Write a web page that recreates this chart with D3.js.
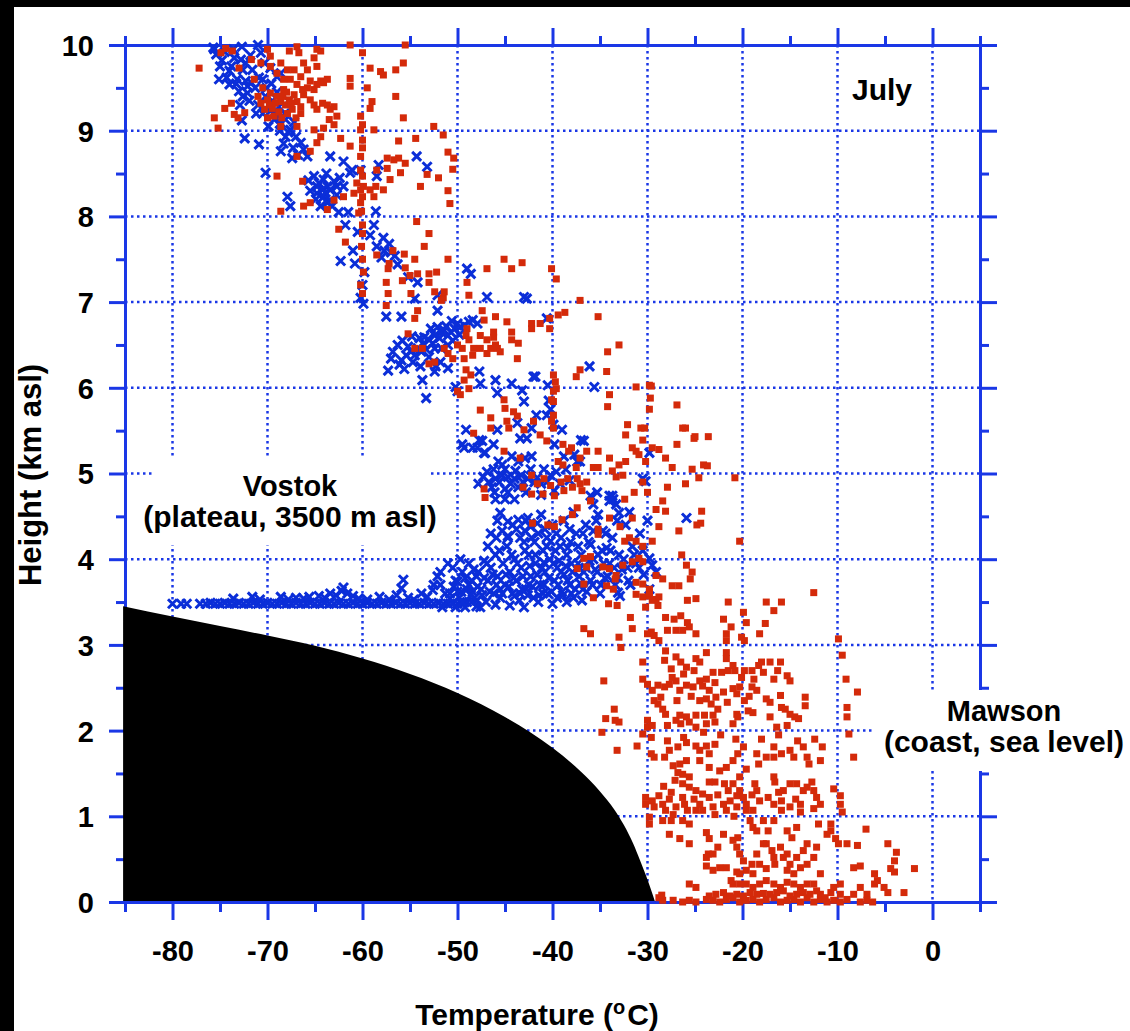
<!DOCTYPE html>
<html>
<head>
<meta charset="utf-8">
<script src="https://cdn.jsdelivr.net/npm/d3@7"></script>
<style>
  html, body { margin: 0; padding: 0; background: #fff; }
  svg { display: block; font-family: "Liberation Sans", Arial, Helvetica, sans-serif; font-weight: bold; }
</style>
</head>
<body>
<div id="chart"></div>
<script>
// ---- data: [temperature (degC), height (km asl)] ----

// Vostok, flat line of surface observations
var vostokSurface = [
  [-80,3.48],[-79.1,3.48],[-78.5,3.48],[-77.1,3.48],[-76.5,3.48],[-76,3.49],[-75.5,3.48],[-75,3.48],[-74.5,3.49],
  [-74,3.48],[-73.5,3.48],[-73,3.49],[-72.5,3.48],[-72,3.48],[-71.5,3.49],[-71,3.48],[-70.5,3.48],[-70,3.49],
  [-69.5,3.48],[-69,3.48],[-68.5,3.49],[-68,3.48],[-67.5,3.48],[-67,3.49],[-66.5,3.48],[-66,3.48],[-65.5,3.49],
  [-65,3.48],[-64.5,3.48],[-64,3.49],[-63.5,3.48],[-63,3.48],[-62.5,3.49],[-62,3.48],[-61.5,3.48],[-61,3.49],
  [-60.5,3.48],[-60,3.48],[-59.5,3.49],[-59,3.48],[-58.5,3.48],[-58,3.49],[-57.5,3.48],[-57,3.48],[-56.5,3.49],
  [-56,3.48],[-55.5,3.48],[-55,3.49],[-54.5,3.48],[-54,3.48],[-53.5,3.49],[-53,3.48],[-52.5,3.48],[-52,3.49],
  [-51.5,3.48],[-51,3.48],[-50.5,3.49],[-50,3.48],[-49.5,3.48],[-49,3.5],[-48.5,3.5],[-48,3.52],
  [-73.6,3.54],[-71.6,3.56],[-70.8,3.53],[-68.6,3.56],[-67.8,3.53],[-67,3.55],[-66.2,3.54],[-65.6,3.56],
  [-64.6,3.57],[-64,3.55],[-63.4,3.6],[-62.8,3.58],[-62.2,3.63],[-62,3.67],[-61.6,3.6],[-61,3.57],[-60.4,3.54],
  [-59.5,3.53],[-58.2,3.56],[-57.2,3.53],[-56.4,3.58],[-55.7,3.76],[-55.9,3.66],[-55.2,3.55],[-54.6,3.53],
  [-53.8,3.6],[-53.2,3.56],[-52.6,3.64],[-52.1,3.8],[-51.8,3.7],[-51.3,3.6],[-50.8,3.54],[-50.4,3.68],[-50,3.74],
  [-49.6,3.62],[-49.2,3.44],[-48.8,3.7],[-48.4,3.62],[-48,3.8],[-47.6,3.44],[-51.6,3.44],[-50.2,3.44]
];

// Vostok, lower troposphere just above the plateau
var vostokLow = [
  [-50.8,3.6],[-50.2,3.75],[-49.8,3.55],[-49.5,3.85],[-49,3.65],[-48.8,3.95],[-48.5,3.75],[-48.2,3.55],[-47.8,3.85],
  [-47.5,3.65],[-47.2,3.98],[-47,3.5],[-46.8,3.75],[-46.5,3.9],[-46.2,3.6],[-46,4.05],[-45.8,3.8],[-45.5,3.55],
  [-45.2,3.95],[-45,3.7],[-44.8,4.15],[-44.5,3.85],[-44.2,3.6],[-44,4.0],[-43.8,3.75],[-43.5,3.52],[-43.3,3.9],
  [-43,4.2],[-42.8,3.65],[-42.5,4.05],[-42.3,3.8],[-42,3.55],[-41.8,3.95],[-41.5,4.3],[-41.3,3.7],[-41,4.1],
  [-40.8,3.85],[-40.5,3.6],[-40.3,4.0],[-40,4.4],[-39.8,3.75],[-39.5,3.9],[-39.2,4.15],[-39,3.62],[-38.8,3.82],
  [-38.5,4.05],[-38.2,3.7],[-38,3.95],[-37.8,3.55],[-37.5,4.3],[-37.2,3.8],[-37,4.05],[-36.8,3.65],[-36.5,3.9],
  [-36.2,4.2],[-36,3.75],[-35.7,4.0],[-35.3,3.85],[-35,3.6],[-34.8,4.1],[-34.5,3.78],[-34,3.95],[-33.7,4.25],
  [-33.4,3.7],[-33,4.05],[-32.7,3.88],[-32.3,4.4],[-32,3.75],[-31.6,4.15],[-31.2,3.95],[-30.8,4.3],[-30.4,3.82],
  [-30,4.45],[-29.8,3.65],[-46.5,4.3],[-45.8,4.45],[-43.8,4.35],[-42.8,4.45],[-41.2,4.52],[-40.6,4.25],[-38.8,4.45],
  [-37.8,4.55],[-36.5,4.4],[-49.5,3.5],[-48,3.45],[-46,3.47],[-44.5,3.46],[-43,3.44],[-41.5,3.5],[-40,3.48],
  [-38.5,3.5],[-52.5,3.7],[-51.8,3.85],[-51,3.95],[-44,3.57],[-45.5,3.65],[-42.5,3.7],[-41,3.6],[-39.5,3.55],
  [-38,3.6],[-43.2,3.65],[-47.2,3.78],[-39.3,3.98],[-40.9,3.96],[-44.7,4.27],[-36.9,3.52],
  [-45.5,4.54],[-44.7,4.44],[-43.6,4.46],[-42.6,4.48],[-41.6,4.42],[-45.3,4.33],[-44.7,4.25],[-42.9,4.33],
  [-42.2,4.25],[-40.2,4.21],[-39.1,4.25],[-38.4,4.13],[-36,4.17],[-34.7,4.33],[-34.3,4.13],[-35.7,4.33],
  [-33.1,3.61],[-32.9,3.57],[-29.8,4.01],[-29.5,3.93],[-29.1,3.85],
  [-50.5,3.9],[-50,3.62],[-49.7,4.0],[-49.2,3.78],[-48.6,3.58],[-48.3,3.88],[-47.9,3.68],[-47.4,3.58],[-46.9,3.95],
  [-46.6,3.62],[-46.3,3.82],[-45.9,3.7],[-45.6,4.1],[-45.3,3.6],[-44.9,3.82],[-44.6,3.68],[-44.3,4.05],[-44.1,3.78],
  [-43.7,3.95],[-43.4,3.6],[-43.1,3.8],[-42.9,4.1],[-42.6,3.58],[-42.4,3.92],[-42.1,3.68],[-41.9,4.2],[-41.6,3.82],
  [-41.4,3.58],[-41.1,3.9],[-40.9,3.7],[-40.6,4.15],[-40.4,3.78],[-40.1,3.62],[-39.9,3.95],[-39.6,4.3],[-39.4,3.7],
  [-39.1,3.85],[-38.9,3.58],[-38.6,3.92],[-38.4,3.75],[-38.1,4.2],[-37.9,3.85],[-37.6,3.65],[-37.3,3.95],[-37.1,3.72],
  [-36.7,3.85],[-36.4,3.62],[-36.1,3.98],[-35.8,3.7],[-35.5,3.88],[-35.2,4.05],[-34.9,3.7],[-34.6,3.95],[-34.2,3.8],
  [-33.9,4.1],[-33.5,3.9],[-33.1,3.78],[-32.5,4.0],[-32.1,3.9],[-31.8,3.7],[-31.4,4.05],[-30.9,3.9],[-30.5,4.1],
  [-46.8,4.15],[-45.9,4.25],[-44.2,4.4],[-43.4,4.25],[-42.3,4.38],[-41.8,4.05],[-40.8,4.35],[-39.7,4.1],[-38.2,4.35],
  [-37.3,4.15],[-36.8,4.3],[-35.4,4.45],[-34.4,4.3],[-33.2,4.45],[-31.9,4.55]
];

// Vostok, middle troposphere
var vostokMid = [
  [-49.5,5.34],[-48.4,5.3],[-47.4,5.38],[-47.1,5.24],[-46.2,5.34],[-45.7,5.14],[-45.3,5.1],[-47.8,4.88],[-46.7,4.9],
  [-46,4.94],[-45.3,4.98],[-44.7,4.96],[-44,4.94],[-43.3,4.98],[-42.6,4.94],[-41.9,4.9],[-41.2,4.88],[-40.2,4.98],
  [-46.4,4.84],[-45,4.82],[-43.6,4.84],[-46,4.7],[-45,4.7],[-44,4.7],[-43.6,5.14],[-42.9,5.18],[-42.2,5.2],
  [-44.3,5.2],[-39.8,5.34],[-38.8,5.2],[-36.7,5.38],[-37.4,5.14],[-33.6,4.7],[-34,4.74],[-33.3,4.64],[-36,4.74],
  [-35.3,4.78],[-30.5,4.94],[-29.8,5.24],[-25.9,4.48],[-37.7,5.22],[-37.1,5.14],[-30.2,4.91],[-33.7,4.74],
  [-34,4.68],[-35.7,4.64],[-35.2,4.52],[-33,4.54],
  [-47.3,4.96],[-46.9,5.02],[-46.2,5.05],[-45.6,4.9],[-45,5.05],[-44.4,4.88],[-43.9,5.03],[-43.1,4.9],[-42.3,5.05],
  [-41.6,4.95],[-40.9,5.05],[-40.6,4.9],[-39.6,5.02],[-39.2,4.88],[-38.6,5.05],[-42.8,4.78],[-44.7,4.78],[-46.1,4.78],
  [-41.2,4.75],[-39.8,4.8],[-38.2,4.92],
  [-49.1,5.51],[-49.3,5.3],[-47.9,5.3],[-47.2,5.24],[-47.7,5.39],[-45.8,5.51],[-43.7,5.59],[-43.4,5.41],
  [-42.7,5.41],[-42.2,5.53],[-41.7,5.68],[-40.6,5.68],[-39.9,5.57],[-39,5.51],[-37,5.39],
  [-47.7,6.19],[-47.6,6.05],[-46,6.09],[-45.8,5.94],[-44.3,6.05],[-43.2,5.97],[-43,5.84],[-42,6.13],[-41.8,6.13],
  [-40.5,6.03],[-40.4,5.85],[-40.2,5.75],[-36.1,6.25],[-35.6,6.01],
  [-57,6.34],[-56.3,6.5],[-56.1,6.27],[-55.4,6.38],[-54.9,6.42],[-54.5,6.38],[-54.2,6.46],[-53.8,6.42],[-53.5,6.5],
  [-53.1,6.57],[-52.8,6.69],[-52.4,6.61],[-52.1,6.71],[-51.7,6.65],[-51.4,6.67],[-51,6.61],[-50.7,6.65],[-50.3,6.69],
  [-50,6.75],[-49.7,6.71],[-49.3,6.73],[-51,6.5],[-51.7,6.46],[-52.4,6.46],[-52.3,6.25],[-52.4,6.19],[-51,6.23],
  [-53.7,6.09],[-53.3,5.88],[-50,5.96],[-50.2,6.01],[-48.8,6.77],[-48.4,6.79],[-47.9,6.75],[-53.5,6.59],[-53,6.36],
  [-55.8,6.55],[-54.8,6.6],[-57.3,6.2],
  [-56.8,6.42],[-55.9,6.32],[-55.2,6.48],[-54.7,6.3],[-54,6.58],[-53.3,6.45],[-52.6,6.52],[-51.9,6.58],[-51.2,6.72],
  [-50.5,6.55],[-49.8,6.62],[-50.6,6.78],[-51.8,6.3],[-53.9,6.25],[-55.6,6.22],
  [-57.7,7.6],[-56.6,7.54],[-56.3,7.44],[-58,7.52],[-57,7.58],[-55.2,7.29],[-54.2,7.23],[-54.5,7.04],[-57.5,6.83],
  [-55.9,6.83],[-52.1,7.08],[-52.1,6.9],[-49,7.39],[-48.6,7.33],[-46.9,7.06],[-43,7.06],[-42.7,7.04],[-40.6,6.81]
];

// Vostok, upper troposphere
var vostokHigh = [
  [-75.6,9.95],[-75.4,9.89],[-75.1,9.6],[-74,9.54],[-73,9.46],[-72.6,9.4],[-72.1,9.52],[-71.7,9.56],[-72.1,9.44],
  [-72.6,9.71],[-72.3,9.79],[-72.8,9.83],[-71,10],[-70.7,9.91],[-71.6,9.71],[-70.3,9.79],[-69.7,9.73],[-69,9.63],
  [-68.6,9.67],[-69.7,9.23],[-69.3,9.13],[-68.6,9.09],[-68.1,9.13],[-67.6,9.01],[-68.1,8.93],[-67,8.93],[-66.5,8.86],
  [-66.2,8.78],[-67.4,8.68],[-68.6,8.76],[-72.4,8.91],[-70.9,8.84],[-70.2,8.51],[-67.9,8.23],[-67.6,8.12],
  [-65.8,8.7],[-63.4,8.7],[-62,8.64],[-65.1,8.47],[-64.6,8.39],[-64.1,8.43],[-63.7,8.35],[-63.4,8.31],[-62.7,8.35],
  [-63,8.41],[-64.2,8.31],[-64.8,8.27],[-64.1,8.23],[-63.4,8.19],[-62.7,8.25],[-62,8.35],[-61.3,8.51],[-63.7,8.16],
  [-64.4,8.12],[-64.8,8.35],[-58.5,8.47],[-58.6,8.06],[-58.3,8.6],[-60.2,8.54],[-61.1,8.54],[-54.3,8.7],[-53.2,8.58],
  [-69.5,9.35],[-68.8,9.28],[-68.2,9.2],[-67.8,9.35],[-67.2,9.1],[-69,9.45],[-70.2,9.4],[-71,9.3],[-70.5,9.2],
  [-73.2,9.6],[-74,9.7],[-73.5,9.85],[-74.5,9.92],[-75.7,9.97],[-71.8,9.88],[-70.5,9.6],
  [-75,9.75],[-74.3,9.62],[-73.8,9.75],[-73.3,9.55],[-72.9,9.3],[-72.3,9.58],[-71.9,9.35],[-71.3,9.5],[-70.9,9.62],
  [-70.1,9.5],[-69.6,9.55],[-69.2,9.2],[-68.7,9.0],[-68.3,8.85],[-67.3,8.8],[-66.8,8.72],[-67.8,8.98],[-69.9,9.05],
  [-71.2,9.2],[-72.7,9.12],[-73.6,9.95],[-72.7,9.98],[-74.8,9.82],[-65.5,8.3],[-64.9,8.2],[-63.9,8.28],[-63.2,8.12],
  [-62.4,8.45],[-65.7,8.42],[-63.8,8.5],[-62.5,8.05],
  [-61.8,7.9],[-60.5,7.82],[-59.2,7.78],[-58.5,7.65],[-61,7.6],[-62.3,7.48],[-60.8,7.45],[-59.8,7.35],[-60,7.2],
  [-60.2,7.05],[-59.9,6.98],[-57.8,7.75],[-58.8,7.9],[-61.5,8.05],[-57.2,7.68]
];

// Mawson, upper troposphere
var mawsonHigh = [
  [-77.2,9.73],[-75.6,9.15],[-75.2,9.03],[-74.5,9.26],[-73.8,9.32],[-73.5,9.19],[-73.1,9.15],[-72.4,9.21],[-74.9,9.91],
  [-74.4,9.96],[-73.7,9.93],[-73,9.73],[-71.7,9.83],[-71.4,9.6],[-70.7,9.79],[-70.5,9.5],[-71,9.4],[-70.7,9.32],
  [-70.3,9.25],[-70,9.36],[-69.7,9.44],[-69.5,9.26],[-69.3,9.17],[-70,9.15],[-69,9.4],[-68.6,9.34],[-68.3,9.48],
  [-68.1,9.3],[-67.7,9.36],[-67.4,9.25],[-67.2,9.42],[-66.9,9.34],[-66.5,9.28],[-66.2,9.42],[-65.8,9.5],[-65.5,9.36],
  [-65.1,9.3],[-64.8,9.25],[-64.2,9.32],[-63.7,9.3],[-63.4,9.25],[-63,9.28],[-64.4,9.58],[-64.1,9.56],[-63.7,9.6],
  [-64.8,9.54],[-65.5,9.58],[-65.1,9.48],[-66.3,9.48],[-66.9,9.54],[-67.6,9.6],[-68.3,9.6],[-69,9.67],[-69.7,9.75],
  [-68.6,9.79],[-67.7,9.93],[-66.9,9.98],[-66.7,9.91],[-66.2,9.79],[-65.8,9.71],[-64.8,9.75],[-64.4,9.93],
  [-65.1,9.85],[-64.8,9.95],[-67.9,9.71],[-67.2,9.71],[-66.5,9.63],[-70,9.95],[-69.7,9.87],[-68.6,9.05],[-66.9,9.05],
  [-65.1,9.01],[-64.8,8.86],[-65.5,8.76],[-66.9,8.7],[-64.4,8.93],[-64.1,9.03],[-62.3,8.91],[-61.3,8.82],[-66.3,8.41],
  [-65.5,8.16],[-66.2,8.12],[-63.7,8.08],[-63,8.19],[-62,8.23],[-60.9,8.27],[-60.6,8.39],[-59.9,8.35],[-59.2,8.31],
  [-60.4,8.04],[-58.8,8.23],[-58.6,8.35],[-57.8,8.31],[-57.1,8.43],[-56,8.51],[-55.5,8.62],[-56.2,8.68],[-56.7,8.66],
  [-57.4,8.56],[-54.4,8.91],[-56.2,8.88],[-53.9,8.35],[-53.2,8.49],[-54.3,7.94],[-68.6,8.06],[-69,8.47],
  [-61.3,10],[-55.5,10],[-60,9.91],[-61.3,9.61],[-61.3,9.52],[-59.2,9.73],[-58.1,9.69],[-57.8,9.65],[-56.5,9.71],
  [-55.7,9.79],[-55.7,9.15],[-56.5,9.4],[-59.5,9.5],[-59,9.34],[-59.2,9.26],[-60.2,9.17],[-60,9.07],[-60.2,9.01],
  [-60,8.89],[-60,8.8],[-60.2,8.7],[-60.2,8.54],[-60,8.47],[-60.2,8.31],[-60,8.23],[-60.2,8.16],[-60.1,8.06],
  [-63.5,9.13],[-62.7,9.17],[-63,9.07],[-58.8,9.01],[-57.4,8.68],[-58.5,8.54],
  [-69.2,9.32],[-68.8,9.22],[-68.4,9.4],[-67.9,9.2],[-67.5,9.32],[-68,9.45],[-69.8,9.3],[-68.5,9.15],[-67,9.15],
  [-66.5,9.2],[-52.5,9.05],[-51.5,8.95],[-51,8.75],[-50.4,8.68],[-50.5,8.55],[-51,8.3],[-50.8,8.15],[-52,8.45],
  [-60,7.9],[-60,7.8],[-60.1,7.65],[-60,7.5],[-59.9,7.35],[-60.2,7.2],[-60,7.1],[-61.8,7.7],[-62.5,7.85],[-58.5,7.55],
  [-57.2,7.45],[-56.8,7.6],[-55.8,7.25],[-55.5,7.4],[-54.5,7.5],[-53.5,7.65],[-53,7.8],[-52.2,7.35],[-51.5,7.05]
];

// Mawson, middle troposphere
var mawsonMid = [
  [-55.6,7.56],[-57.3,7.39],[-57.5,7.23],[-57.3,7.1],[-57.5,6.96],[-55,7.31],[-54.9,7.1],[-54.2,7.33],[-53,7.33],
  [-53,7.23],[-51,7.5],[-52.4,7.12],[-51.4,7.12],[-51.7,7.02],[-54.2,6.9],[-54.5,6.81],[-55.2,6.63],[-54.5,6.46],
  [-53.7,6.46],[-53,6.28],[-52.4,6.3],[-51.4,6.46],[-51,6.4],[-50.5,6.34],[-50,6.5],[-49.5,6.46],[-49.3,6.34],
  [-49.1,6.21],[-48.6,6.15],[-49.3,6.09],[-48.8,5.99],[-50,5.96],[-49.7,5.92],[-49.1,6.61],[-49,6.69],[-48.8,6.56],
  [-48.4,6.38],[-48.3,6.46],[-47.6,6.61],[-47.6,6.46],[-47.4,6.9],[-46.9,6.56],[-46.9,6.4],[-46.5,6.46],[-46.2,6.59],
  [-46,6.5],[-45.8,6.46],[-45.5,6.42],[-46.2,6.65],[-47.2,6.79],[-48.8,7.08],[-49,7.23],[-46.9,7.39],[-45.1,7.5],
  [-44.3,7.39],[-43.2,7.46],[-46,6.83],[-44.8,6.77],[-44.3,6.65],[-44.3,6.56],[-43.6,6.52],[-43.7,6.34],[-42.2,6.69],
  [-42.2,6.75],[-41.3,6.75],[-40.3,6.81],[-40.3,6.69],[-39.4,6.85],[-38.7,6.88],[-39.6,7.27],[-40.1,7.39],
  [-37.1,7.02],[-35.2,6.83],[-33,6.5],[-34.2,6.42],[-37.1,6.21],[-37.5,6.13],[-34.3,6.19],[-39.9,6.15],[-39.7,6.07],
  [-39.9,5.96],[-39.9,5.84],[-39.9,5.68],[-40.1,5.61],[-39.9,5.53],[-40.1,5.86],[-39.6,5.99],[-47.6,5.74],
  [-46.5,5.65],[-45.1,5.86],[-45,5.76],[-44.1,5.72],[-43.7,5.67],[-43,5.51],[-42,5.61],[-44.8,5.61],[-44.6,5.53],
  [-46.5,5.53],[-48.3,5.47],[-45.1,5.26],[-43.4,5.18],[-41.3,5.45],[-40.6,5.38],[-38.9,5.34],[-38,5.3],[-37.1,5.18],
  [-36.4,5.26],[-35.2,5.26],[-34,5.18],[-35.7,5.07],[-35.2,5.07],[-33.7,5.03],[-33,5.1],[-32.3,5.14],[-31.2,5.26],
  [-30.9,5.22],[-30.2,5.14],[-30.5,5.39],[-29.5,5.3],[-28.8,5.28],[-28.1,5.18],[-27.4,5.07],[-26.9,5.34],[-25,5.43],
  [-25.3,5.05],[-24.6,4.95],[-24.1,5.1],[-23.7,5.09],[-32.1,5.57],[-30.7,5.53],[-30.3,5.53],[-32.3,5.45],[-34,5.92],
  [-34.2,5.78],[-31.2,6.01],[-29.8,6.03],[-26.9,5.8],[-26.3,5.53],[-26,5.53],[-25.1,5.41],[-31.6,5.3],[-38.9,5.1],
  [-37.5,5.07],[-38.3,5.26],[-39.4,5.14],[-24.3,4.56],[-29.6,6.02],[-29.7,5.88],[-29.8,5.75],
  [-43.1,4.84],[-42.2,4.98],[-41.6,4.88],[-40.9,4.94],[-40.2,4.86],[-39.1,4.9],[-38.4,4.94],[-37.9,4.84],[-37.4,4.94],
  [-37.1,4.88],[-42.2,4.76],[-41,4.76],[-39.8,4.74],[-38.8,4.8],[-47.2,4.82],[-47.1,4.72],[-26,4.88],[-27.9,4.84],
  [-28.4,4.68],[-30,4.78],[-31.4,4.78],[-32.4,4.7],[-33.3,4.96],[-32.6,4.98],[-30.5,4.9],[-36.4,4.9],[-36.9,4.8],
  [-36,4.68],[-37.4,4.6],[-37.9,4.52],[-39,4.46],[-39.8,4.38],[-40.5,4.4],[-42.1,4.42],[-35.2,4.35],[-35.2,4.29],
  [-34,4.48],[-32.9,4.38],[-32.4,4.21],[-31.9,4.25],[-31.2,4.21],[-31.6,4.48],[-30.5,4.15],[-29.5,4.21],[-29.1,4.58],
  [-28.1,4.56],[-28.8,4.38],[-26.7,4.33],[-24.8,4.4],[-26.4,4.05],[-25.9,3.93],[-25.3,3.85],[-25.5,3.77],[-26.7,3.69],
  [-27.4,3.69],[-28.4,3.77],[-29.1,3.81],[-29.8,3.65],[-30.5,3.71],[-31.2,3.73],[-30.5,3.97],[-31.6,3.97],[-30.9,4.01],
  [-32.6,3.93],[-33.3,3.81],[-34,3.89],[-34.7,3.91],[-36,4.03],[-36.7,4.01],[-36.4,3.91],[-37.4,3.89],[-36.7,3.71],
  [-35.7,3.55],[-34.3,3.69],[-33.6,3.65],[-33.4,3.77],[-31.2,3.59],[-29.8,3.57],[-29.1,3.53],[-36.7,3.19],[-36,3.13],
  [-23.6,5.43],[-20.8,4.95],[-20.3,4.21],[-24.4,4.42]
];

// Mawson, lower troposphere down to the coast
var mawsonLow = [
  [-34.1,3.48],[-33.2,3.46],[-31.8,3.32],[-31.6,3.19],[-30.5,3.56],[-30.2,3.44],[-29.8,3.61],[-29.5,3.52],[-28.8,3.56],
  [-28.9,3.46],[-30,3.13],[-29.6,3.15],[-29.3,3.11],[-28.8,3.05],[-28.1,3.32],[-27.2,3.3],[-27.9,3.17],[-27,3.17],
  [-26.5,3.34],[-25.8,3.26],[-25.6,3.21],[-26.3,3.17],[-24.9,3.13],[-25.8,3.52],[-24.9,3.54],[-21.5,3.5],[-22,3.3],
  [-21.2,3.21],[-21.7,3.13],[-21.7,3.05],[-19.9,3.38],[-19.6,3.26],[-20.1,3.09],[-19.8,3.05],[-17.6,3.25],[-18.2,3.13],
  [-17.5,3.5],[-16.7,3.4],[-15.9,3.5],[-12.5,3.61],[-33,3.09],[-32.8,2.97],
  [-28.1,2.93],[-28.2,2.82],[-27,2.86],[-26.5,2.8],[-27.5,2.72],[-25.9,2.74],[-24.9,2.84],[-23.8,2.91],[-24.5,2.8],
  [-30.5,2.8],[-30.5,2.6],[-30,2.54],[-29.5,2.47],[-28.9,2.53],[-28.2,2.51],[-27.7,2.54],[-27,2.58],[-26.6,2.47],
  [-25.9,2.53],[-25.2,2.51],[-24.5,2.58],[-23.8,2.6],[-23.1,2.68],[-22.2,2.68],[-21.5,2.7],[-20.8,2.7],[-21,2.76],
  [-19.8,2.7],[-19,2.7],[-18.3,2.76],[-18,2.8],[-17.1,2.8],[-16,2.8],[-16.7,2.6],[-15.3,2.64],[-15,2.58],[-19,2.51],
  [-18.5,2.47],[-17.5,2.37],[-17.1,2.33],[-16,2.41],[-21.7,2.91],[-21.7,2.84],[-23.5,2.47],[-24.5,2.35],[-23.8,2.37],
  [-23.3,2.31],[-22.8,2.39],[-22.6,2.25],[-23.1,2.18],[-24,2.18],[-24.9,2.18],[-25.9,2.16],[-26.6,2.18],[-27,2.12],
  [-28.1,2.19],[-28.4,2.25],[-28.9,2.31],[-29.3,2.35],[-28.6,2.39],[-30,2.12],[-30,2.04],[-29.5,2.06],[-27.9,2.06],
  [-26.5,2.08],[-25.6,2.1],[-24.9,2.04],[-23.8,2.08],[-22.9,2.1],[-21,2.49],[-20.6,2.43],[-20.3,2.51],[-19.8,2.35],
  [-19.4,2.23],[-18.9,2.21],[-20.6,2.19],[-20.5,2.16],[-21,2.08],[-17.1,2.16],[-16.4,2.04],[-15.3,2.06],[-14.5,2.16],
  [-14.1,2.14],[-15.9,2.27],[-15.5,2.25],[-13.4,2.39],[-13.4,2.29],[-15,2.19],[-9.9,3.07],[-9.5,2.88],[-9.1,2.6],
  [-7.9,2.45],[-9,2.27],[-9,2.16],[-8.8,1.96],[-34.6,2.58],[-33.5,2.25],[-34.4,2.14],[-33.4,2.12],[-33,2.1],
  [-34.8,1.98],[-33.2,1.77],[-31.1,1.82],[-30.5,1.96],
  [-27.4,2.62],[-26.2,2.66],[-25.1,2.7],[-24.2,2.52],[-22.9,2.56],[-22,2.45],[-20.1,2.62],[-18.8,2.6],[-17.8,2.68],
  [-16.3,2.7],[-26.9,2.35],[-25.4,2.4],[-21.6,2.33],[-19.3,2.4],
  [-29.6,1.92],[-29.6,1.73],[-29.3,1.69],[-28.2,1.69],[-27.7,1.77],[-26.8,1.81],[-25.9,1.86],[-24.9,1.82],[-24.5,1.77],
  [-23.8,1.82],[-22.9,1.84],[-23.5,1.73],[-24.5,1.65],[-25.9,1.65],[-26.6,1.61],[-27.3,1.59],[-26.8,1.51],[-26.3,1.49],
  [-25.6,1.46],[-26.3,1.38],[-25.6,1.34],[-24.9,1.3],[-24.2,1.26],[-23.5,1.22],[-24.5,1.14],[-24.9,1.07],[-24.2,1.07],
  [-23.1,1.11],[-22,1.14],[-21.3,1.18],[-20.6,1.24],[-20.3,1.3],[-19.9,1.22],[-19.6,1.14],[-19.6,1.07],[-18.9,1.07],
  [-20.6,1.11],[-21.7,1.07],[-30.2,1.22],[-30.2,1.14],[-29.5,1.18],[-29.3,1.11],[-28.4,1.14],[-28.1,1.07],[-27.5,1.28],
  [-27.7,1.2],[-28.8,1.24],[-26.3,1.22],[-26.1,1.14],[-27,1.11],[-25.8,1.07],[-22.9,1.4],[-23.5,1.4],[-21.9,1.38],
  [-21,1.38],[-20.3,1.46],[-19.6,1.55],[-18.3,1.61],[-17.5,1.69],[-16.7,1.69],[-15.9,1.73],[-15,1.77],[-14.6,1.69],
  [-13.2,1.69],[-13,1.61],[-11.8,1.65],[-11.6,1.81],[-13.6,1.81],[-16.7,1.81],[-18.5,1.73],[-19.9,1.81],[-20.5,1.73],
  [-21,1.65],[-21.7,1.57],[-22.4,1.53],[-23.5,1.57],[-15,1.38],[-14.3,1.38],[-13.6,1.3],[-13.2,1.34],[-12.7,1.4],
  [-12.5,1.3],[-12.2,1.22],[-13.9,1.14],[-15.7,1.3],[-15.9,1.18],[-16.7,1.14],[-15.9,1.07],[-15,1.11],[-13.9,1.05],
  [-12.5,1.09],[-11.8,1.14],[-10.4,1.32],[-9.7,1.24],[-9.7,1.14],[-9.5,1.05],[-8.3,1.69],[-7,0.85],[-12,0.91],
  [-10.7,0.83],[-10.2,0.74],[-9.9,0.68],[-9,0.68],[-7.9,0.66],[-16.7,1.46],[-16.6,1.4],[-18.7,1.38],[-18.5,1.3],
  [-18.2,1.18],
  [-27.1,1.42],[-28.3,1.35],[-25.1,1.2],[-22.6,1.25],[-21.5,1.3],[-19,1.25],[-17.3,1.22],[-16.2,1.28],[-14.4,1.2],
  [-22.9,1.02],[-20.9,1.0],[-27.3,1.02],[-27.9,1.88],[-26.2,1.92],[-22.3,1.95],[-20.7,1.9],[-18,1.9],[-16.2,1.95],
  [-14.2,1.88],[-12.4,1.9],[-24.1,1.98],
  [-29.8,0.99],[-29.8,0.91],[-28.4,0.95],[-27.5,0.95],[-26.3,0.95],[-25.6,0.91],[-27.7,0.79],[-26.6,0.74],[-25.6,0.68],
  [-23.8,0.81],[-23.5,0.74],[-23.6,0.56],[-23.8,0.52],[-23.1,0.56],[-22.6,0.64],[-22,0.79],[-21,0.72],[-20.6,0.64],
  [-20.3,0.56],[-20.5,0.75],[-19.2,0.95],[-18.9,0.87],[-18.5,0.83],[-17.8,0.95],[-17.3,0.83],[-16.7,0.95],[-17.5,0.68],
  [-16.9,0.6],[-16.7,0.52],[-16,0.64],[-15.7,0.52],[-16.6,0.44],[-17.5,0.39],[-18.2,0.44],[-19,0.44],[-19.9,0.48],
  [-19.6,0.37],[-18.9,0.33],[-20.6,0.35],[-21.7,0.4],[-22.4,0.4],[-23.1,0.37],[-23.8,0.42],[-25.6,0.21],[-24.9,0.17],
  [-21,0.21],[-20.3,0.21],[-19.6,0.21],[-18.9,0.17],[-18.2,0.21],[-17.5,0.25],[-16.7,0.21],[-16,0.17],[-15.3,0.23],
  [-14.6,0.21],[-13.9,0.17],[-13.2,0.21],[-12.5,0.21],[-14.6,0.33],[-15.3,0.37],[-13.9,0.4],[-13.2,0.44],[-15,0.44],
  [-12.5,0.52],[-11.8,0.33],[-10.4,0.17],[-9.7,0.21],[-11.8,0.09],[-10.7,0.11],[-9.7,0.09],[-8.3,0.09],[-7.6,0.17],
  [-6.9,0.09],[-6.1,0.21],[-5.8,0.25],[-5.1,0.17],[-4.7,0.11],[-4,0.48],[-4.4,0.39],[-4,0.35],[-1.9,0.39],[-3,0.11],
  [-4.7,0.68],[-3.8,0.58],[-7.6,0.42],[-6.1,0.33],[-8.3,0.4],
  [-28.8,0.05],[-28.4,0.02],[-27.3,0.02],[-26.3,0],[-25.6,0.02],[-24.9,0],[-23.8,0.03],[-23.1,0.02],[-22.4,0],
  [-21.7,0.03],[-21,0.05],[-20.3,0],[-19.6,0.02],[-18.9,0.03],[-18.2,0],[-17.5,0.03],[-16.7,0.05],[-16,0],[-15.3,0.02],
  [-14.6,0.03],[-13.9,0],[-13.2,0.05],[-12.5,0],[-11.8,0.03],[-11.1,0],[-10.4,0.02],[-9.7,0],[-9,0.03],[-7.6,0],
  [-6.9,0.02],[-6.3,0],[-23.5,0.07],[-22.8,0.09],[-22,0.11],[-21.3,0.07],[-20.6,0.09],[-19.9,0.07],[-19.2,0.11],
  [-18.5,0.09],[-17.8,0.1],[-17.1,0.09],[-16.4,0.11],[-15.7,0.13],[-15,0.07],[-14.3,0.09],[-13.6,0.11],[-12.9,0.09],
  [-12.2,0.13],[-11.3,0.05],[-21.2,0.25],[-20.3,0.33],[-15.3,0.56],[-14.3,0.52],[-13.6,0.6],[-13.2,0.68],[-12.2,0.64],
  [-11.1,0.79],[-10.7,0.91],[-15.3,0.83],[-14.8,0.75],[-14.3,0.87],[-18.5,0.56],[-17.8,0.68],[-28.5,0.08]
];

// ice sheet profile (black)
var iceProfile = [
  [-85.2,3.45],[-80,3.33],[-75,3.22],[-70,3.11],[-65,2.99],[-60,2.84],[-55,2.66],[-50,2.44],[-45,2.16],
  [-40,1.8],[-37,1.52],[-35,1.29],[-33.5,1.08],[-32.5,0.9],[-31.5,0.68],[-30.8,0.49],[-30.2,0.32],[-29.7,0.165],
  [-29.2,0]
];

var xTicks = [-80, -70, -60, -50, -40, -30, -20, -10, 0];
var xMinorTicks = [-85, -75, -65, -55, -45, -35, -25, -15, -5, 5];
var yTicks = [0, 1, 2, 3, 4, 5, 6, 7, 8, 9, 10];
var yMinorTicks = [0.5, 1.5, 2.5, 3.5, 4.5, 5.5, 6.5, 7.5, 8.5, 9.5];

var axisBlue = '#1a37e6',
  crossBlue = '#0b2ed8',
  squareRed = '#d42a0a';

var svgWidth = 1130, svgHeight = 1031;
var plot = { left: 125, right: 980, top: 45, bottom: 902 };

var svg = d3.select('#chart')
  .append('svg')
  .attr('width', svgWidth)
  .attr('height', svgHeight);

var x = d3.scaleLinear().domain([-85, 5]).range([plot.left, plot.right]);
var y = d3.scaleLinear().domain([0, 10]).range([plot.bottom, plot.top]);

// black frame edges
svg.append('rect').attr('x', 0).attr('y', 0).attr('width', svgWidth).attr('height', 7).attr('fill', '#000');
svg.append('rect').attr('x', 0).attr('y', 0).attr('width', 14).attr('height', svgHeight).attr('fill', '#000');

// dotted grid
var grid = svg.append('g').attr('class', 'grid')
  .attr('stroke', axisBlue).attr('stroke-width', 2.5).attr('stroke-dasharray', '2.5,3.5');
grid.selectAll('.vgrid').data(xTicks).enter().append('line')
  .attr('x1', function (d) { return x(d); }).attr('x2', function (d) { return x(d); })
  .attr('y1', plot.top).attr('y2', plot.bottom);
grid.selectAll('.hgrid').data(yTicks.slice(1, -1)).enter().append('line')
  .attr('x1', plot.left).attr('x2', plot.right)
  .attr('y1', function (d) { return y(d); }).attr('y2', function (d) { return y(d); });

function styleAxis(g) {
  g.selectAll('path.domain').attr('stroke', axisBlue).attr('stroke-width', 3);
  g.selectAll('.tick line').attr('stroke', axisBlue).attr('stroke-width', 3);
  g.selectAll('text').attr('fill', '#000').attr('font-size', 29).attr('font-weight', 'bold')
    .attr('font-family', '"Liberation Sans", Arial, sans-serif');
}

function drawAxes() {
  var fmt = function (d) { return String(d); };
  var bottom = svg.append('g').attr('transform', 'translate(0,' + plot.bottom + ')')
    .call(d3.axisBottom(x).tickValues(xTicks).tickSize(18).tickSizeOuter(0).tickFormat(fmt));
  bottom.selectAll('text').attr('y', 59).attr('dy', 0);
  svg.append('g').attr('transform', 'translate(0,' + plot.bottom + ')')
    .call(d3.axisBottom(x).tickValues(xMinorTicks).tickSize(10).tickSizeOuter(0).tickFormat(''));
  svg.append('g').attr('transform', 'translate(0,' + plot.top + ')')
    .call(d3.axisTop(x).tickValues(xTicks).tickSize(17).tickSizeOuter(0).tickFormat(''));
  svg.append('g').attr('transform', 'translate(0,' + plot.top + ')')
    .call(d3.axisTop(x).tickValues(xMinorTicks).tickSize(9).tickSizeOuter(0).tickFormat(''));
  var left = svg.append('g').attr('transform', 'translate(' + plot.left + ',0)')
    .call(d3.axisLeft(y).tickValues(yTicks).tickSize(16).tickSizeOuter(0).tickFormat(fmt));
  left.selectAll('text').attr('x', -31).attr('dy', '0.36em');
  svg.append('g').attr('transform', 'translate(' + plot.left + ',0)')
    .call(d3.axisLeft(y).tickValues(yMinorTicks).tickSize(9).tickSizeOuter(0).tickFormat(''));
  svg.append('g').attr('transform', 'translate(' + plot.right + ',0)')
    .call(d3.axisRight(y).tickValues(yTicks).tickSize(17).tickSizeOuter(0).tickFormat(''));
  svg.append('g').attr('transform', 'translate(' + plot.right + ',0)')
    .call(d3.axisRight(y).tickValues(yMinorTicks).tickSize(9).tickSizeOuter(0).tickFormat(''));
  svg.selectAll('g').each(function () { styleAxis(d3.select(this)); });
}
drawAxes();

// Vostok crosses
var vostok = vostokSurface.concat(vostokLow, vostokMid, vostokHigh);
svg.append('g').selectAll('path.vostok')
  .data(vostok).enter().append('path')
  .attr('class', 'vostok')
  .attr('d', 'M-4.5,-4.5L4.5,4.5M-4.5,4.5L4.5,-4.5')
  .attr('transform', function (d) { return 'translate(' + x(d[0]) + ',' + y(d[1]) + ')'; })
  .attr('stroke', crossBlue).attr('stroke-width', 3).attr('fill', 'none');

// Mawson squares
var mawson = mawsonHigh.concat(mawsonMid, mawsonLow);
svg.append('g').selectAll('rect.mawson')
  .data(mawson).enter().append('rect')
  .attr('class', 'mawson')
  .attr('x', function (d) { return x(d[0]) - 3.5; })
  .attr('y', function (d) { return y(d[1]) - 3.5; })
  .attr('width', 7).attr('height', 7)
  .attr('fill', squareRed);

// ice sheet
var area = d3.area()
  .x(function (d) { return x(d[0]); })
  .y0(y(0) - 1)
  .y1(function (d) { return y(d[1]); })
  .curve(d3.curveMonotoneX);
svg.append('path').datum(iceProfile).attr('d', area).attr('fill', '#000');

// label boxes and labels
svg.append('rect').attr('x', 153).attr('y', 457).attr('width', 277).attr('height', 88).attr('fill', '#fff');
svg.append('rect').attr('x', 872).attr('y', 690).attr('width', 258).attr('height', 81).attr('fill', '#fff');

function label(txt, cx, by, size) {
  svg.append('text').attr('x', cx).attr('y', by)
    .attr('text-anchor', 'middle').attr('font-size', size).attr('fill', '#000')
    .text(txt);
}
label('Vostok', 290, 496, 29);
label('(plateau, 3500 m asl)', 290, 527, 30);
label('Mawson', 1004, 721, 29);
label('(coast, sea level)', 1004, 752, 30);
label('July', 882, 100, 30);

var xt = svg.append('text').attr('x', 537).attr('y', 1025)
  .attr('text-anchor', 'middle').attr('font-size', 30).attr('fill', '#000');
xt.append('tspan').text('Temperature (');
xt.append('tspan').attr('font-size', 20).attr('dy', -11).text('o');
xt.append('tspan').attr('dy', 11).attr('dx', 2).text('C)');

svg.append('text')
  .attr('transform', 'translate(41,475) rotate(-90)')
  .attr('text-anchor', 'middle').attr('font-size', 31).attr('fill', '#000')
  .text('Height (km asl)');
</script>
</body>
</html>
